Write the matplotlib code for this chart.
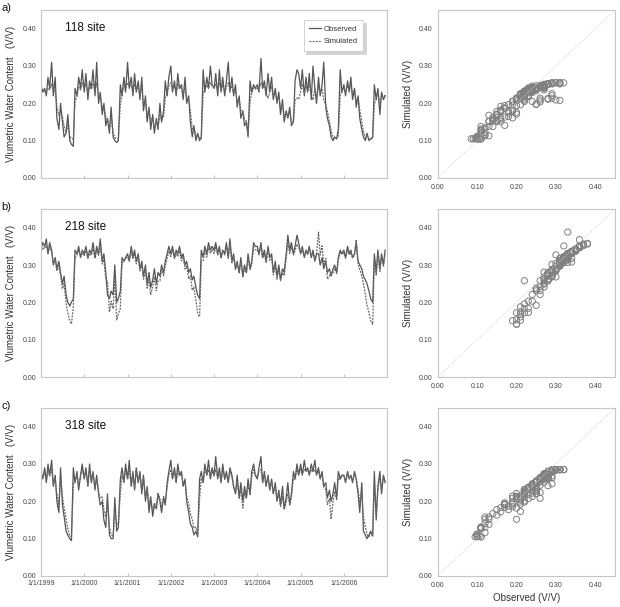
import matplotlib
matplotlib.use("Agg")
import matplotlib.pyplot as plt
import numpy as np
import pandas as pd

plt.rcParams['font.family'] = ['Liberation Sans', 'DejaVu Sans']

# semi-monthly sampling dates (1st and 15th of each month)
dates = pd.date_range('1999-01-01', '2006-12-31', freq='SMS')
year_ticks = pd.to_datetime([f'{y}-01-01' for y in range(1999, 2007)])
year_labels = [f'1/1/{y}' for y in range(1999, 2007)]
y_ticks = [0.0, 0.1, 0.2, 0.3, 0.4]
sites = ['118 site', '218 site', '318 site']
panel_labels = ['a)', 'b)', 'c)']

obs_118 = [
    0.25,0.23,0.24,0.22,0.27,0.24,0.31,0.22,0.27,0.16,0.13,0.20,0.15,0.11,0.12,0.17,0.10,0.09,0.085,0.24,0.22,0.27,0.24,0.29,
    0.23,0.28,0.21,0.26,0.24,0.29,0.22,0.31,0.20,0.23,0.17,0.20,0.14,0.16,0.12,0.19,0.11,0.10,0.095,0.10,0.25,0.22,0.27,0.23,
    0.31,0.24,0.27,0.22,0.28,0.23,0.26,0.21,0.27,0.18,0.22,0.15,0.19,0.13,0.17,0.12,0.16,0.13,0.20,0.15,0.18,0.26,0.22,0.27,
    0.30,0.23,0.26,0.22,0.28,0.24,0.25,0.21,0.27,0.20,0.22,0.15,0.11,0.14,0.10,0.12,0.10,0.11,0.29,0.23,0.27,0.24,0.30,0.25,
    0.24,0.28,0.22,0.29,0.23,0.27,0.22,0.26,0.31,0.23,0.27,0.22,0.25,0.19,0.22,0.16,0.18,0.14,0.15,0.11,0.26,0.23,0.25,0.24,
    0.25,0.23,0.32,0.24,0.26,0.22,0.28,0.23,0.27,0.21,0.24,0.20,0.23,0.17,0.21,0.15,0.18,0.16,0.19,0.14,0.15,0.26,0.29,0.28,
    0.24,0.29,0.22,0.27,0.23,0.28,0.21,0.30,0.24,0.20,0.27,0.22,0.25,0.31,0.19,0.16,0.14,0.11,0.10,0.11,0.105,0.13,0.29,0.23,
    0.25,0.22,0.26,0.23,0.27,0.21,0.24,0.19,0.22,0.16,0.13,0.11,0.10,0.12,0.10,0.105,0.11,0.25,0.21,0.24,0.17,0.23,0.21,0.22,
]
sim_118 = [
    0.238,0.236,0.232,0.228,0.241,0.236,0.252,0.231,0.236,0.192,0.168,0.176,0.163,0.138,0.122,0.141,0.112,0.105,0.105,0.205,0.219,0.243,0.236,0.255,
    0.241,0.251,0.226,0.244,0.238,0.254,0.233,0.255,0.214,0.221,0.188,0.194,0.162,0.158,0.134,0.161,0.121,0.108,0.105,0.105,0.198,0.224,0.248,0.239,
    0.255,0.246,0.249,0.229,0.252,0.236,0.243,0.223,0.241,0.197,0.205,0.171,0.182,0.151,0.163,0.132,0.152,0.138,0.171,0.155,0.165,0.214,0.228,0.247,
    0.255,0.238,0.247,0.229,0.253,0.239,0.241,0.224,0.242,0.211,0.209,0.178,0.131,0.138,0.109,0.117,0.105,0.105,0.226,0.236,0.249,0.241,0.255,0.247,
    0.243,0.251,0.232,0.255,0.236,0.249,0.229,0.244,0.255,0.238,0.247,0.226,0.234,0.206,0.211,0.182,0.178,0.158,0.152,0.118,0.204,0.228,0.241,0.238,
    0.242,0.236,0.255,0.241,0.247,0.229,0.213,0.231,0.245,0.218,0.229,0.207,0.218,0.186,0.196,0.169,0.174,0.162,0.178,0.154,0.151,0.209,0.214,0.211,
    0.232,0.252,0.226,0.247,0.231,0.253,0.222,0.209,0.238,0.214,0.246,0.227,0.239,0.208,0.196,0.178,0.152,0.128,0.108,0.105,0.105,0.113,0.221,0.234,
    0.241,0.229,0.248,0.233,0.251,0.224,0.236,0.204,0.216,0.181,0.152,0.126,0.107,0.113,0.105,0.105,0.105,0.197,0.213,0.235,0.194,0.221,0.215,0.222,
]
obs_218 = [
    0.34,0.36,0.35,0.37,0.33,0.36,0.34,0.30,0.32,0.29,0.31,0.28,0.25,0.27,0.22,0.20,0.19,0.20,0.21,0.34,0.33,0.35,0.32,0.34,
    0.33,0.35,0.32,0.34,0.33,0.36,0.32,0.35,0.33,0.37,0.31,0.33,0.28,0.22,0.21,0.23,0.22,0.30,0.20,0.21,0.23,0.32,0.31,0.32,
    0.33,0.31,0.35,0.32,0.34,0.31,0.33,0.29,0.31,0.27,0.30,0.25,0.28,0.24,0.26,0.29,0.25,0.28,0.27,0.30,0.28,0.31,0.33,0.35,
    0.33,0.35,0.32,0.34,0.33,0.35,0.32,0.33,0.30,0.31,0.28,0.29,0.26,0.27,0.24,0.22,0.21,0.34,0.32,0.35,0.33,0.36,0.34,0.35,
    0.34,0.36,0.33,0.35,0.32,0.34,0.33,0.36,0.32,0.37,0.31,0.33,0.29,0.31,0.28,0.32,0.27,0.30,0.28,0.33,0.29,0.31,0.36,0.35,
    0.35,0.33,0.36,0.32,0.34,0.31,0.35,0.32,0.33,0.28,0.31,0.27,0.30,0.26,0.29,0.28,0.33,0.38,0.34,0.36,0.33,0.35,0.38,0.36,
    0.33,0.35,0.32,0.34,0.33,0.35,0.32,0.34,0.31,0.33,0.33,0.30,0.32,0.29,0.31,0.28,0.29,0.27,0.29,0.30,0.28,0.32,0.34,0.33,
    0.34,0.32,0.35,0.33,0.34,0.32,0.33,0.36,0.31,0.30,0.29,0.27,0.26,0.25,0.23,0.21,0.20,0.33,0.28,0.34,0.29,0.33,0.30,0.34,
]
sim_218 = [
    0.332,0.347,0.343,0.356,0.331,0.348,0.335,0.304,0.313,0.284,0.297,0.272,0.236,0.251,0.196,0.172,0.151,0.142,0.188,0.318,0.327,0.341,0.322,0.333,
    0.324,0.338,0.318,0.331,0.326,0.347,0.317,0.339,0.326,0.352,0.303,0.314,0.262,0.258,0.174,0.203,0.183,0.268,0.153,0.168,0.184,0.306,0.309,0.318,
    0.321,0.312,0.338,0.316,0.332,0.303,0.322,0.284,0.302,0.262,0.284,0.238,0.261,0.221,0.242,0.268,0.231,0.257,0.258,0.287,0.271,0.298,0.318,0.337,
    0.323,0.341,0.317,0.333,0.322,0.338,0.311,0.321,0.289,0.298,0.262,0.271,0.232,0.241,0.203,0.172,0.161,0.308,0.312,0.338,0.321,0.347,0.331,0.342,
    0.331,0.348,0.327,0.342,0.318,0.336,0.327,0.351,0.318,0.354,0.306,0.322,0.288,0.302,0.279,0.308,0.268,0.291,0.279,0.317,0.287,0.302,0.347,0.341,
    0.341,0.327,0.352,0.318,0.332,0.307,0.342,0.313,0.322,0.274,0.298,0.262,0.287,0.258,0.279,0.271,0.318,0.358,0.331,0.348,0.327,0.339,0.356,0.347,
    0.331,0.342,0.322,0.337,0.328,0.343,0.321,0.334,0.312,0.329,0.388,0.327,0.351,0.302,0.318,0.262,0.271,0.281,0.279,0.291,0.277,0.312,0.336,0.328,
    0.332,0.318,0.341,0.327,0.333,0.318,0.327,0.368,0.302,0.288,0.271,0.249,0.221,0.192,0.173,0.152,0.141,0.307,0.272,0.331,0.283,0.322,0.297,0.331,
]
obs_318 = [
    0.28,0.26,0.29,0.25,0.30,0.27,0.31,0.24,0.27,0.20,0.17,0.29,0.19,0.16,0.12,0.11,0.10,0.095,0.29,0.25,0.28,0.23,0.27,0.30,
    0.26,0.29,0.24,0.30,0.25,0.28,0.23,0.27,0.22,0.19,0.20,0.15,0.13,0.22,0.11,0.10,0.10,0.21,0.12,0.13,0.26,0.29,0.25,0.30,
    0.26,0.31,0.24,0.28,0.23,0.29,0.25,0.28,0.22,0.27,0.20,0.24,0.17,0.21,0.16,0.19,0.18,0.22,0.20,0.17,0.21,0.19,0.25,0.28,
    0.31,0.26,0.29,0.25,0.30,0.27,0.28,0.24,0.26,0.20,0.17,0.14,0.13,0.11,0.12,0.105,0.26,0.28,0.25,0.30,0.27,0.31,0.26,0.29,
    0.27,0.32,0.26,0.29,0.25,0.30,0.26,0.28,0.25,0.29,0.27,0.24,0.22,0.27,0.21,0.25,0.20,0.24,0.21,0.26,0.22,0.28,0.30,0.27,
    0.26,0.29,0.32,0.25,0.28,0.24,0.27,0.23,0.26,0.22,0.25,0.20,0.23,0.19,0.24,0.18,0.21,0.25,0.19,0.22,0.28,0.26,0.30,0.27,
    0.30,0.27,0.31,0.28,0.29,0.27,0.30,0.28,0.31,0.27,0.29,0.26,0.28,0.24,0.25,0.21,0.23,0.20,0.22,0.25,0.21,0.28,0.26,0.27,
    0.27,0.25,0.28,0.26,0.27,0.25,0.28,0.26,0.22,0.17,0.25,0.12,0.11,0.10,0.11,0.12,0.11,0.28,0.15,0.24,0.28,0.22,0.27,0.25,
]
sim_318 = [
    0.272,0.262,0.279,0.254,0.284,0.268,0.285,0.247,0.259,0.221,0.192,0.263,0.214,0.183,0.152,0.127,0.108,0.105,0.247,0.251,0.272,0.238,0.268,0.285,
    0.263,0.281,0.246,0.285,0.254,0.274,0.237,0.262,0.226,0.208,0.212,0.178,0.158,0.201,0.131,0.112,0.105,0.173,0.141,0.138,0.224,0.268,0.254,0.285,
    0.259,0.285,0.243,0.273,0.236,0.282,0.251,0.274,0.228,0.262,0.211,0.236,0.191,0.213,0.172,0.196,0.187,0.221,0.208,0.184,0.213,0.198,0.238,0.271,
    0.285,0.261,0.281,0.252,0.285,0.268,0.274,0.243,0.252,0.214,0.193,0.167,0.152,0.128,0.131,0.108,0.208,0.262,0.251,0.285,0.272,0.285,0.262,0.281,
    0.268,0.285,0.262,0.281,0.253,0.285,0.259,0.274,0.252,0.279,0.264,0.237,0.224,0.251,0.208,0.232,0.182,0.222,0.207,0.243,0.218,0.267,0.284,0.271,
    0.262,0.281,0.285,0.251,0.273,0.242,0.263,0.232,0.254,0.223,0.241,0.204,0.219,0.186,0.213,0.178,0.198,0.221,0.192,0.211,0.262,0.259,0.285,0.271,
    0.285,0.274,0.285,0.281,0.285,0.272,0.285,0.279,0.285,0.272,0.282,0.262,0.271,0.238,0.231,0.192,0.207,0.152,0.198,0.227,0.203,0.263,0.259,0.268,
    0.268,0.253,0.274,0.262,0.269,0.254,0.272,0.261,0.232,0.196,0.221,0.158,0.131,0.112,0.105,0.116,0.105,0.242,0.163,0.231,0.265,0.231,0.268,0.253,
]

observed = [obs_118, obs_218, obs_318]
simulated = [sim_118, sim_218, sim_318]

W, H = 620, 607
fig = plt.figure(figsize=(W / 100, H / 100), dpi=100)

rows_px = [(10, 178), (209, 377), (408, 576)]
ts_x = (41, 387)
sc_x = (437.7, 615)

spine_col = '#c6c6c6'
tick_col = '#444444'

for i in range(3):
    top, bot = rows_px[i]
    ax = fig.add_axes([ts_x[0] / W, 1 - bot / H, (ts_x[1] - ts_x[0]) / W, (bot - top) / H])
    ax.plot(dates, observed[i], color='#555555', lw=0.9, label='Observed')
    ax.plot(dates, simulated[i], color='#666666', lw=0.9, ls=(0, (1.5, 1)), label='Simulated')
    ax.set_xlim(pd.Timestamp('1999-01-01'), pd.Timestamp('2006-12-31'))
    ax.set_ylim(0, 0.45)
    ax.set_yticks(y_ticks)
    ax.set_yticklabels([f'{v:.2f}' for v in y_ticks])
    ax.set_xticks(year_ticks)
    if i == 2:
        ax.set_xticklabels(year_labels)
    else:
        ax.set_xticklabels([])
    ax.tick_params(axis='both', labelsize=5, colors=tick_col, pad=3)
    ax.tick_params(axis='y', length=0)
    ax.tick_params(axis='x', length=2, direction='in', color=spine_col)
    for s in ax.spines.values():
        s.set_color(spine_col)
        s.set_linewidth(0.8)
    ax.set_ylabel('Vlumetric Water Content   (V/V)', fontsize=7, color='#333333', labelpad=5)
    ax.text(0.07, 0.89, sites[i], transform=ax.transAxes, fontsize=8.5,
            color='#111111', va='center', ha='left', fontweight='medium')
    fig.text(1 / W, 1 - (top - 2) / H, panel_labels[i], fontsize=8, color='#111111', va='center', ha='left')
    if i == 0:
        leg = ax.legend(loc='upper right', bbox_to_anchor=((363 - 41) / 346, (178 - 20) / 168),
                        fontsize=5.5, frameon=True, shadow={'color': '#d4d4d4', 'alpha': 1.0},
                        borderaxespad=0, handlelength=1.6, handletextpad=0.3,
                        borderpad=0.7, labelspacing=0.7, fancybox=False)
        leg.get_frame().set_edgecolor('#cccccc')
        leg.get_frame().set_linewidth(0.6)
        for t in leg.get_texts():
            t.set_color('#333333')

    # scatter
    axs = fig.add_axes([sc_x[0] / W, 1 - bot / H, (sc_x[1] - sc_x[0]) / W, (bot - top) / H])
    axs.plot([0, 0.45], [0, 0.45], color='#cfcfcf', lw=0.7, ls=(0, (1, 1.5)))
    axs.scatter(observed[i], simulated[i], s=20, facecolors='none', edgecolors='#808080', linewidths=0.7)
    axs.set_xlim(0, 0.45)
    axs.set_ylim(0, 0.45)
    axs.set_xticks(y_ticks)
    axs.set_yticks(y_ticks)
    axs.set_xticklabels([f'{v:.2f}' for v in y_ticks])
    axs.set_yticklabels([f'{v:.2f}' for v in y_ticks])
    axs.tick_params(axis='both', labelsize=5, colors=tick_col, length=0, pad=4)
    for s in axs.spines.values():
        s.set_color(spine_col)
        s.set_linewidth(0.8)
    axs.set_ylabel('Simulated (V/V)', fontsize=7, color='#333333', labelpad=4)
    if i == 2:
        axs.set_xlabel('Observed (V/V)', fontsize=7, color='#333333', labelpad=3)

fig.savefig('out.png', dpi=100)
